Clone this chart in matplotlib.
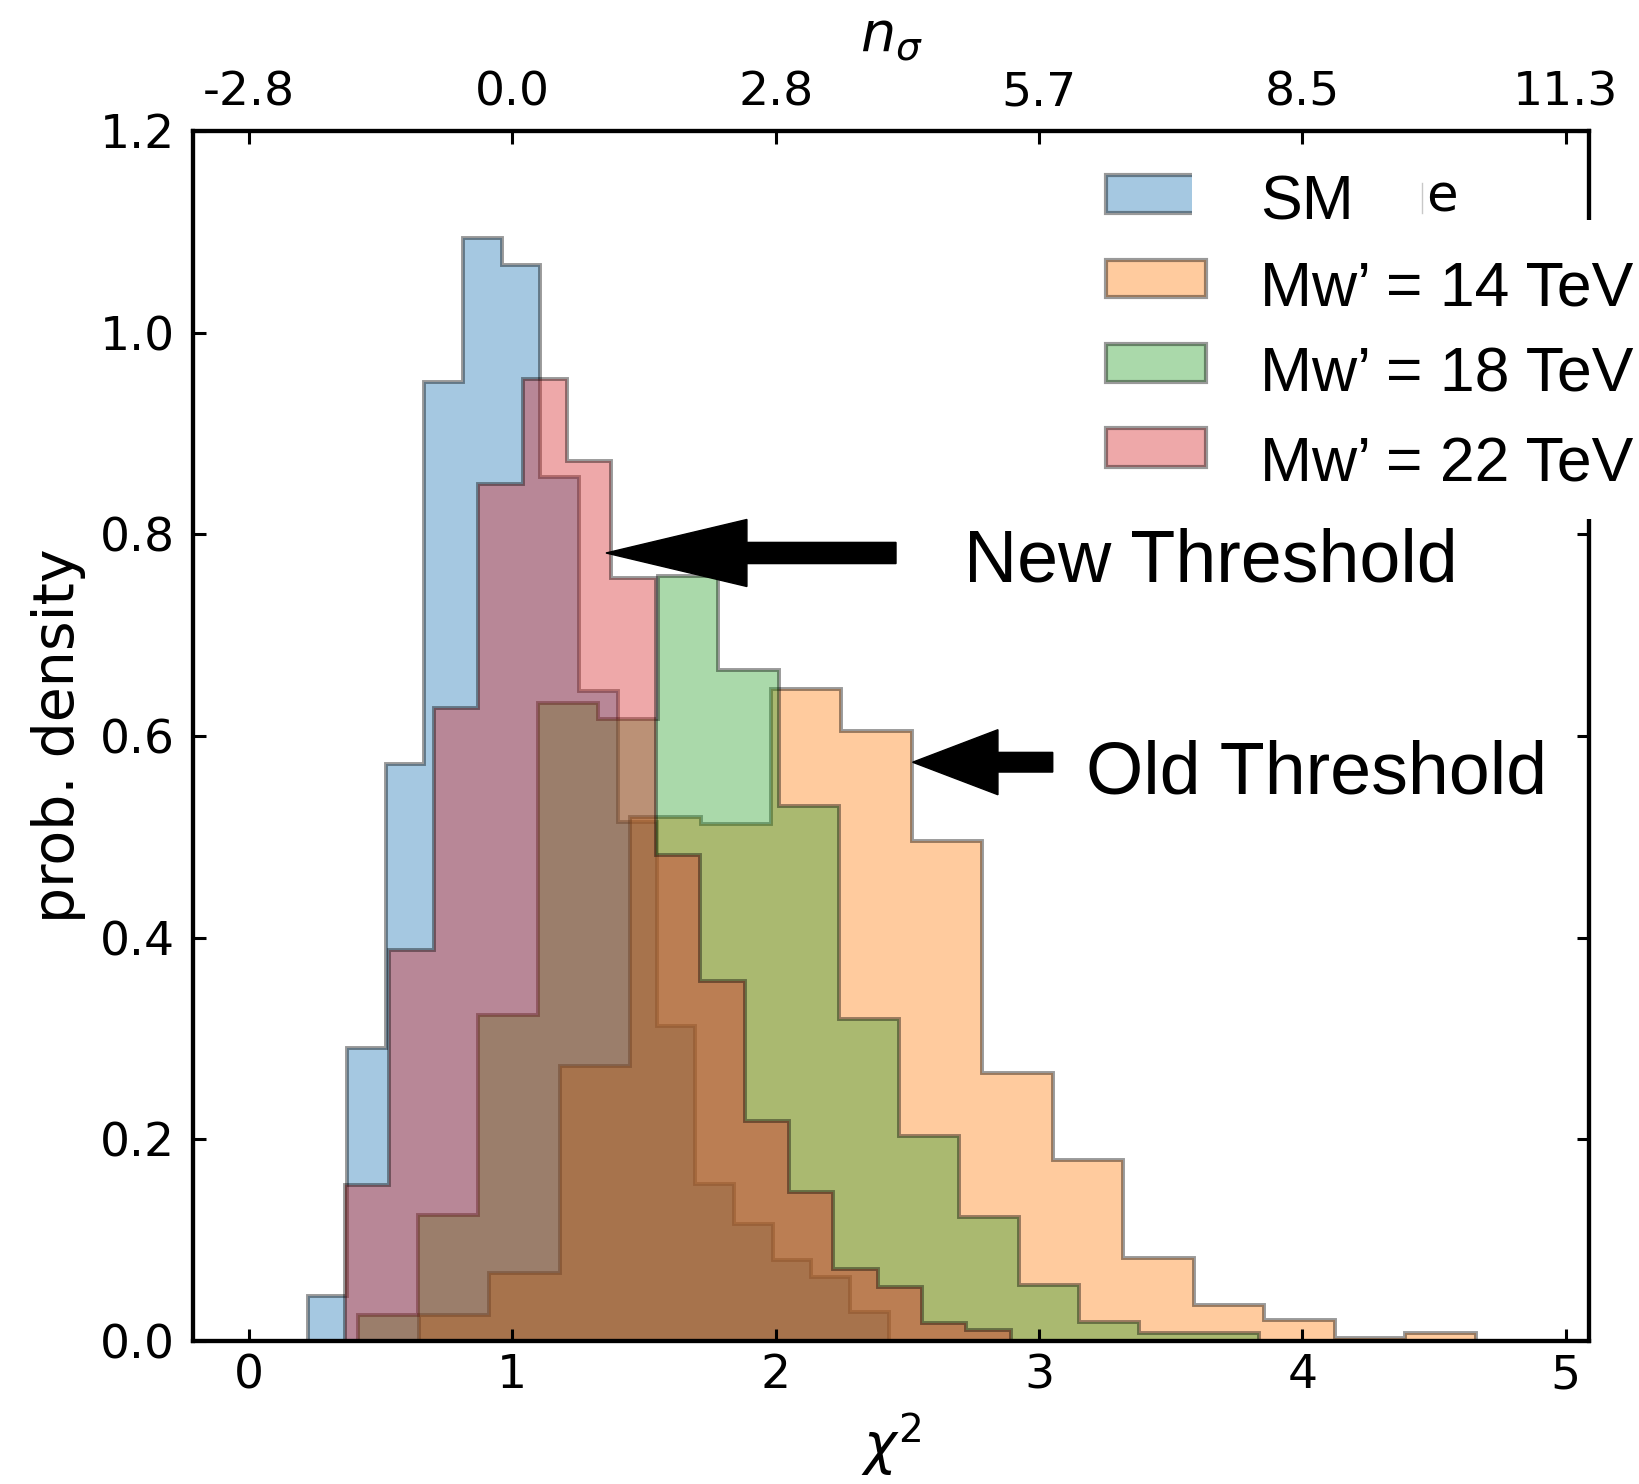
import matplotlib
matplotlib.use("Agg")
import matplotlib.pyplot as plt
from matplotlib.colors import to_rgba
from matplotlib.patches import Rectangle, FancyArrow
from matplotlib.lines import Line2D

# ---------------- data ----------------
sm_edges = [0.225, 0.372, 0.519, 0.666, 0.813, 0.960, 1.107, 1.254, 1.401,
            1.548, 1.695, 1.842, 1.989, 2.136, 2.283, 2.430]
sm_density = [0.045, 0.291, 0.572, 0.951, 1.094, 1.067, 0.857, 0.645, 0.515,
              0.312, 0.156, 0.116, 0.080, 0.063, 0.029]

w14_edges = [0.645, 0.913, 1.180, 1.448, 1.715, 1.983, 2.250, 2.518, 2.785,
             3.053, 3.320, 3.588, 3.855, 4.123, 4.390, 4.658]
w14_density = [0.026, 0.067, 0.273, 0.520, 0.513, 0.647, 0.605, 0.496, 0.266,
               0.180, 0.082, 0.036, 0.021, 0.003, 0.008]

w18_edges = [0.415, 0.643, 0.871, 1.099, 1.327, 1.555, 1.783, 2.011, 2.239,
             2.467, 2.695, 2.923, 3.151, 3.379, 3.607, 3.835]
w18_density = [0.026, 0.125, 0.323, 0.633, 0.617, 0.759, 0.665, 0.531, 0.319,
               0.203, 0.123, 0.056, 0.019, 0.008, 0.008]

w22_edges = [0.365, 0.534, 0.702, 0.871, 1.039, 1.208, 1.376, 1.545, 1.713,
             1.882, 2.050, 2.219, 2.387, 2.556, 2.724, 2.893]
w22_density = [0.155, 0.388, 0.628, 0.850, 0.954, 0.873, 0.757, 0.482, 0.357,
               0.218, 0.148, 0.071, 0.054, 0.018, 0.011]

series_labels = ["SM", "Mw\u2019 = 14 TeV", "Mw\u2019 = 18 TeV", "Mw\u2019 = 22 TeV"]
series_colors = ["tab:blue", "tab:orange", "tab:green", "tab:red"]

x_ticks = [0, 1, 2, 3, 4, 5]
y_ticks = [0.0, 0.2, 0.4, 0.6, 0.8, 1.0, 1.2]
y_ticklabels = ["0.0", "0.2", "0.4", "0.6", "0.8", "1.0", "1.2"]
top_ticklabels = ["-2.8", "0.0", "2.8", "5.7", "8.5", "11.3"]

# annotation arrows: (tip x, tip y, tail x)
new_threshold = (1.356, 0.7815, 2.457)
old_threshold = (2.520, 0.574, 3.052)

# ---------------- figure ----------------
W, H = 1639, 1484
fig = plt.figure(figsize=(W / 100, H / 100), dpi=100)
ax = fig.add_axes([193 / W, 1 - 1341 / H, (1589 - 193) / W, (1341 - 131) / H])

all_edges = [sm_edges, w14_edges, w18_edges, w22_edges]
all_dens = [sm_density, w14_density, w18_density, w22_density]
for e, d, c in zip(all_edges, all_dens, series_colors):
    ax.stairs(d, e, fill=True, facecolor=to_rgba(c, 0.4),
              edgecolor=(0, 0, 0, 0.4), linewidth=2.8)

ax.set_xlim(-0.212, 5.088)
ax.set_ylim(0, 1.2)
ax.set_xticks(x_ticks)
ax.set_yticks(y_ticks)
ax.set_yticklabels(y_ticklabels)
ax.tick_params(axis="both", direction="in", length=9, width=2.2, labelsize=34)
ax.tick_params(axis="y", right=True, pad=13)
ax.tick_params(axis="x", top=False, pad=9)

ax2 = ax.twiny()
ax2.set_xlim(ax.get_xlim())
ax2.set_xticks(x_ticks)
ax2.set_xticklabels(top_ticklabels)
ax2.tick_params(axis="x", direction="in", length=9, width=2.2, labelsize=34, pad=11)

for a in (ax, ax2):
    for s in a.spines.values():
        s.set_linewidth(3)

ax.set_ylabel("prob. density", fontsize=41)
ax.yaxis.set_label_coords(-0.0766, 0.5)
ax.set_xlabel(r"$\chi^2$", fontsize=40)
ax.xaxis.set_label_coords(0.5, -0.0587)
ax2.set_xlabel(r"$n_\sigma$", fontsize=40)
ax2.xaxis.set_label_coords(0.5, 1.066)

# arrows + annotation text
for (tx, ty, tail), w, hw, hl in [(new_threshold, 0.021, 0.0665, 0.535),
                                  (old_threshold, 0.0195, 0.0645, 0.324)]:
    ax.add_patch(FancyArrow(tail, ty, tx - tail, 0, width=w, head_width=hw,
                            head_length=hl, length_includes_head=True,
                            color="black", zorder=5, clip_on=False))
ax.text(2.715, 0.7537, "New Threshold", fontsize=53, family="Liberation Sans",
        va="baseline", ha="left", zorder=6)
ax.text(3.178, 0.5432, "Old Threshold", fontsize=53, family="Liberation Sans",
        va="baseline", ha="left", zorder=6)

# ---------------- pasted legend ----------------
def fx(px):
    return px / W


def fy(py):
    return 1 - py / H


# white patch that covers part of the right spine
fig.patches.append(Rectangle((fx(1095), fy(519)), fx(W) - fx(1095), fy(220) - fy(519),
                             transform=fig.transFigure, facecolor="white",
                             edgecolor="none", zorder=5))

handle_rows = [(175, 213), (260, 297), (344, 382), (428, 467)]
text_baselines = [219, 305, 392, 481]
for (y0, y1), c in zip(handle_rows, series_colors):
    fig.patches.append(Rectangle((fx(1106), fy(y1)), fx(1206) - fx(1106), fy(y0) - fy(y1),
                                 transform=fig.transFigure, facecolor=to_rgba(c, 0.4),
                                 edgecolor=(0, 0, 0, 0.4), linewidth=3, zorder=6))

# white patch over the old SM legend entry
fig.patches.append(Rectangle((fx(1192), fy(222)), fx(1422) - fx(1192), fy(150) - fy(222),
                             transform=fig.transFigure, facecolor="white",
                             edgecolor="none", zorder=7))
fig.lines.append(Line2D([fx(1422), fx(1422)], [fy(183), fy(213)], transform=fig.transFigure,
                        color="#c8c8c8", linewidth=1, zorder=8))
fig.text(fx(1426), fy(212), "e", fontsize=37, family="DejaVu Sans", va="baseline",
         ha="left", zorder=8)

for lab, yb in zip(series_labels, text_baselines):
    fig.text(fx(1260), fy(yb), lab, fontsize=45, family="Liberation Sans",
             va="baseline", ha="left", zorder=9)

fig.savefig("out.png", dpi=100, facecolor="white")
